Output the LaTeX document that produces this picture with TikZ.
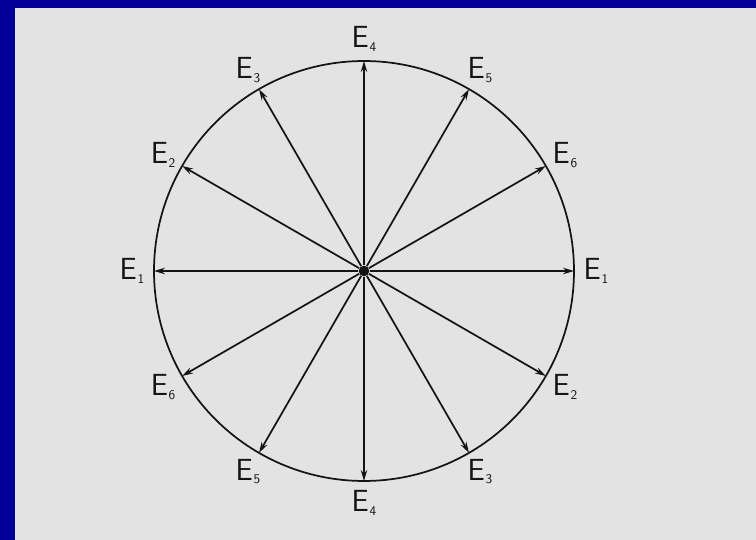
\documentclass[tikz,border=0pt]{standalone}
\usetikzlibrary{arrows.meta}

\definecolor{slideblue}{RGB}{0,0,153}
\definecolor{paper}{RGB}{227,227,227}
\definecolor{ink}{RGB}{20,20,20}
\newcommand{\Elab}[1]{E\kern0.6pt\raisebox{-2.5pt}{\fontsize{10}{10}\selectfont #1}}

\begin{document}
\begin{tikzpicture}[x=1cm,y=1cm]
\tikzset{
  fieldlabel/.style={inner sep=0pt,text=ink,font=\sffamily\fontsize{23}{24}\selectfont},
  origindot/.style={circle,fill=ink,inner sep=0pt,minimum size=2.8mm},
  fieldvector/.style={draw=ink,line width=1.3pt,-{Stealth[length=2.9mm,width=1.7mm]}},
  ring/.style={draw=ink,line width=1.3pt}
}
% page and slide frame
\fill[paper] (-9.631,-7.117) rectangle (10.372,7.170);
\fill[slideblue] (-9.631,-7.117) rectangle (-9.234,7.170);
\fill[slideblue] (-9.631,6.958) rectangle (10.372,7.170);
\useasboundingbox (-9.631,-7.117) rectangle (10.372,7.170);
\draw[ring] (0,0) circle (5.556);
\node[origindot] (n_O) at (0,0) {};
\coordinate (t_0) at (5.556,0);
\coordinate (t_30) at (4.812,2.778);
\coordinate (t_60) at (2.778,4.812);
\coordinate (t_90) at (0,5.556);
\coordinate (t_120) at (-2.778,4.812);
\coordinate (t_150) at (-4.812,2.778);
\coordinate (t_180) at (-5.556,0);
\coordinate (t_210) at (-4.812,-2.778);
\coordinate (t_240) at (-2.778,-4.812);
\coordinate (t_270) at (0,-5.556);
\coordinate (t_300) at (2.778,-4.812);
\coordinate (t_330) at (4.812,-2.778);
\node[fieldlabel] (n_E1r) at (6.138,0) {\Elab{1}};
\node[fieldlabel] (n_E6u) at (5.316,3.069) {\Elab{6}};
\node[fieldlabel] (n_E5u) at (3.069,5.316) {\Elab{5}};
\node[fieldlabel] (n_E4u) at (0,6.138) {\Elab{4}};
\node[fieldlabel] (n_E3u) at (-3.069,5.316) {\Elab{3}};
\node[fieldlabel] (n_E2u) at (-5.316,3.069) {\Elab{2}};
\node[fieldlabel] (n_E1l) at (-6.138,0) {\Elab{1}};
\node[fieldlabel] (n_E6d) at (-5.316,-3.069) {\Elab{6}};
\node[fieldlabel] (n_E5d) at (-3.069,-5.316) {\Elab{5}};
\node[fieldlabel] (n_E4d) at (0,-6.138) {\Elab{4}};
\node[fieldlabel] (n_E3d) at (3.069,-5.316) {\Elab{3}};
\node[fieldlabel] (n_E2d) at (5.316,-3.069) {\Elab{2}};
\draw[fieldvector] (n_O) -- (t_0);
\draw[fieldvector] (n_O) -- (t_30);
\draw[fieldvector] (n_O) -- (t_60);
\draw[fieldvector] (n_O) -- (t_90);
\draw[fieldvector] (n_O) -- (t_120);
\draw[fieldvector] (n_O) -- (t_150);
\draw[fieldvector] (n_O) -- (t_180);
\draw[fieldvector] (n_O) -- (t_210);
\draw[fieldvector] (n_O) -- (t_240);
\draw[fieldvector] (n_O) -- (t_270);
\draw[fieldvector] (n_O) -- (t_300);
\draw[fieldvector] (n_O) -- (t_330);
\end{tikzpicture}
\end{document}
